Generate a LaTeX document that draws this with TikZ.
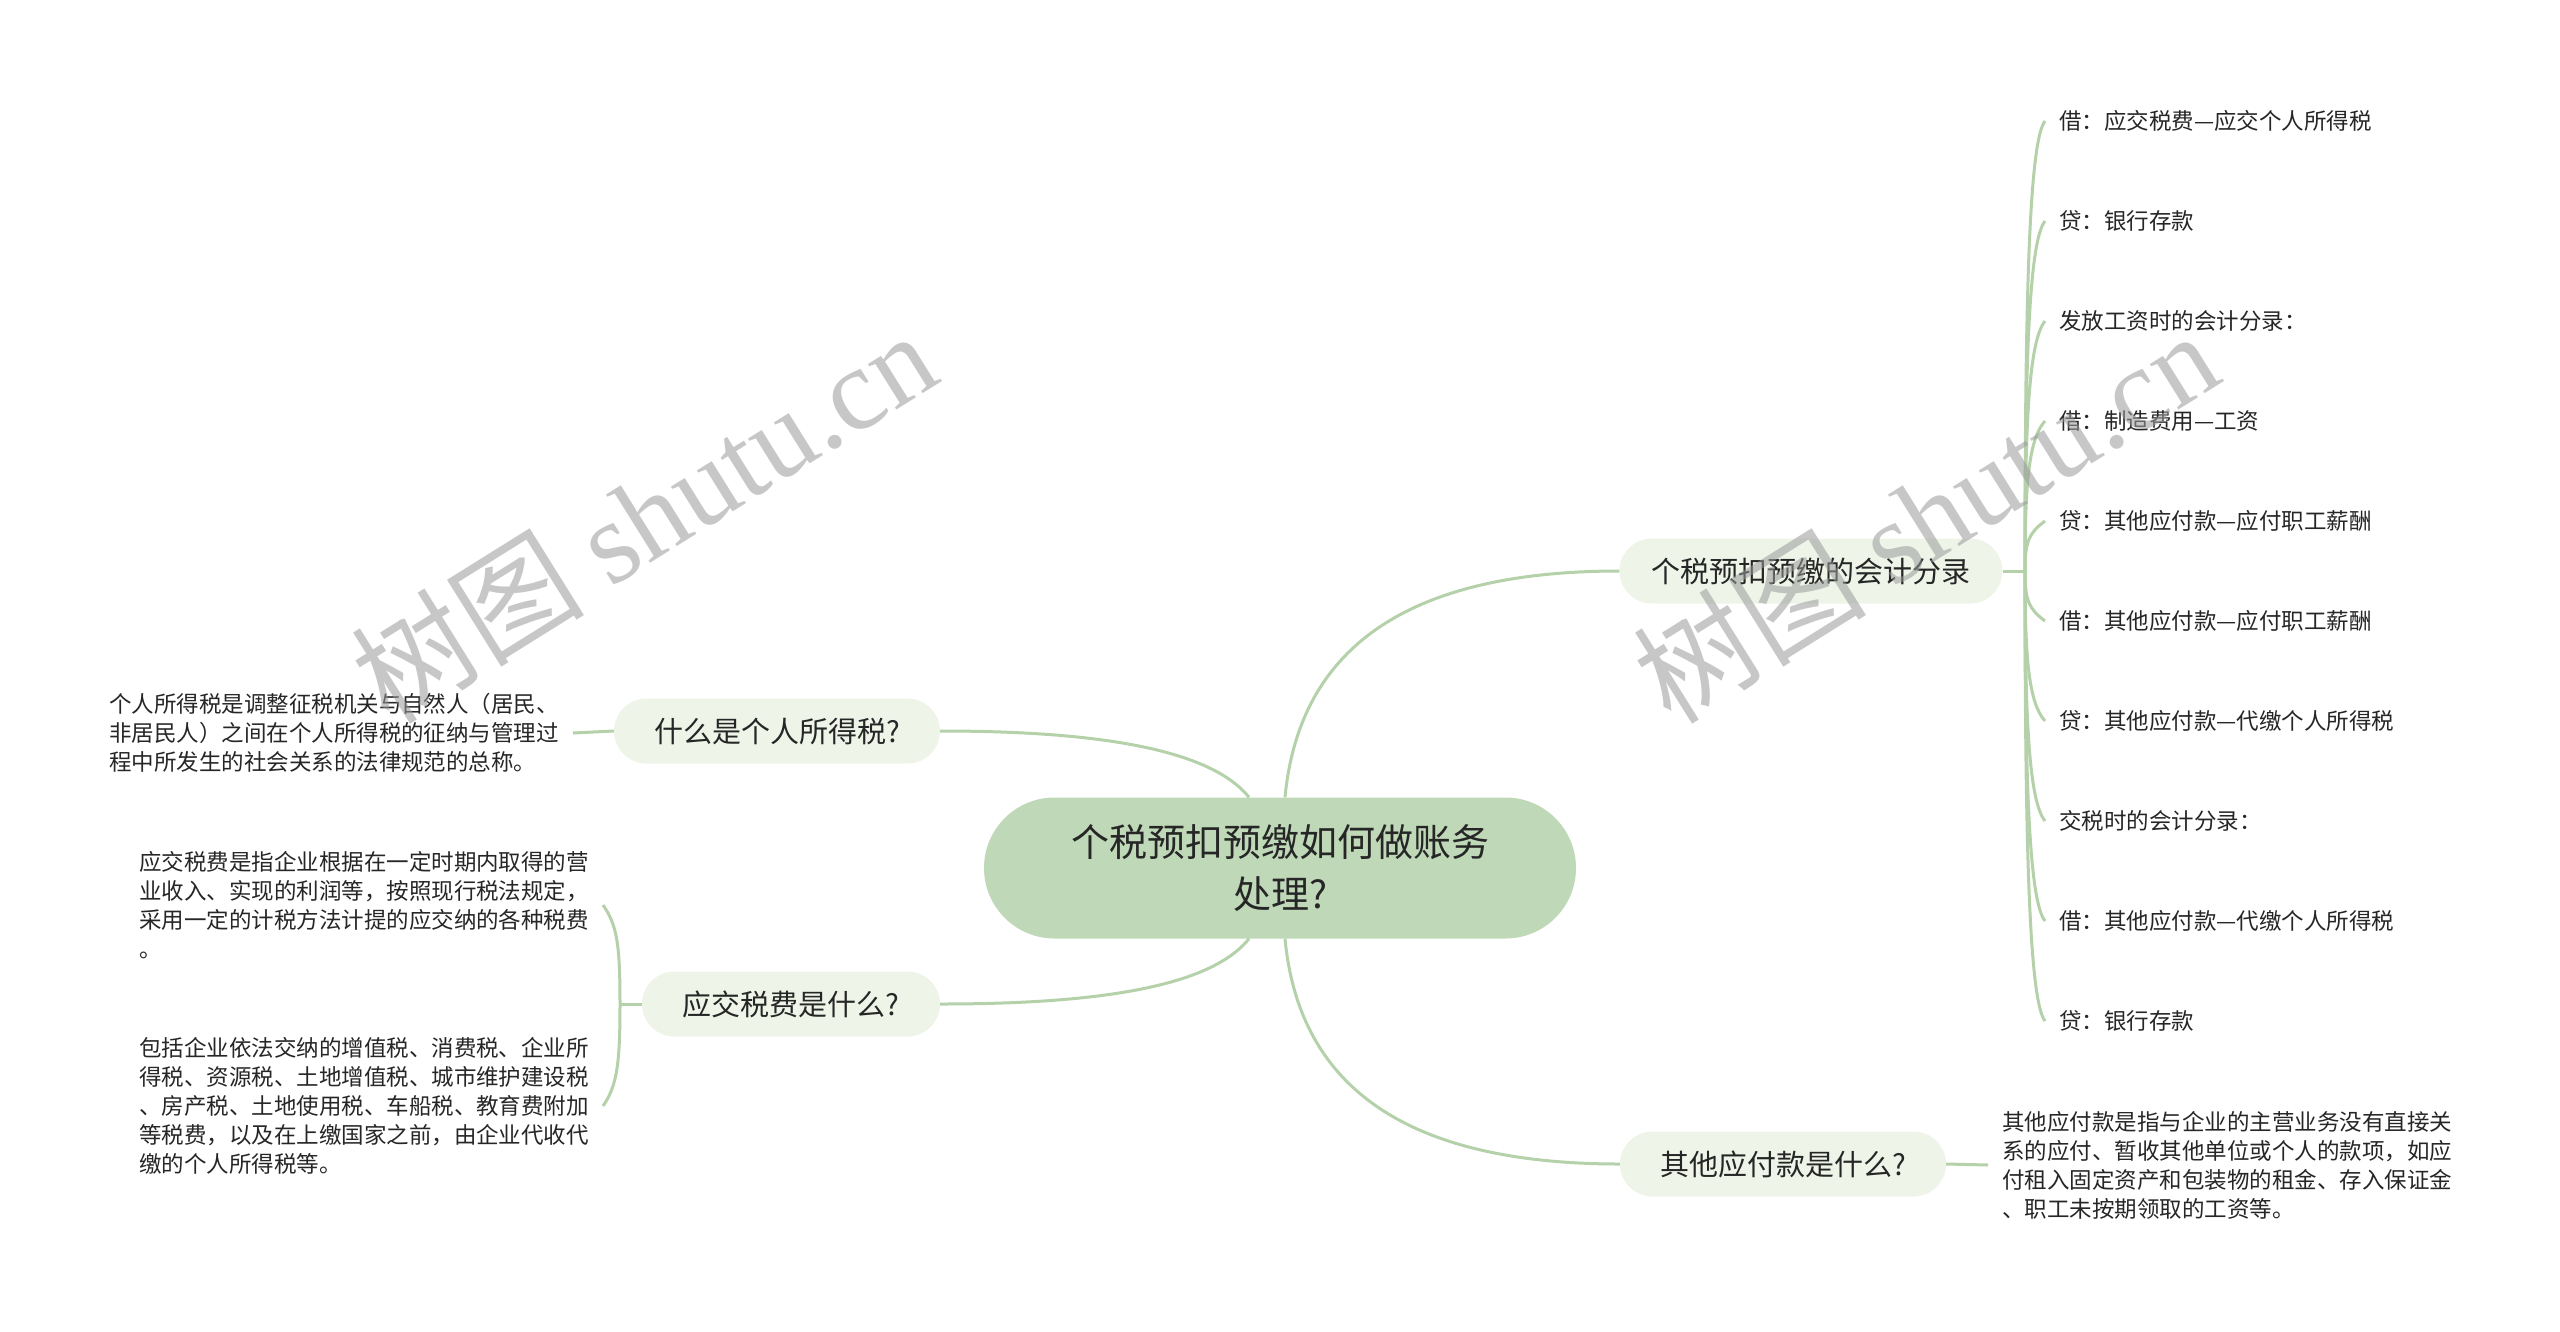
\documentclass[tikz,border=0pt]{standalone}
\usepackage{fontspec}
\setmainfont{Noto Sans CJK SC}
\newfontfamily\wmlatin{Liberation Serif}
\usetikzlibrary{shapes.misc}
\definecolor{centerfill}{HTML}{BFD9B8}
\definecolor{branchfill}{HTML}{EEF5E8}
\definecolor{linkcol}{HTML}{B5D1AA}
\definecolor{txt}{HTML}{262626}
\definecolor{wmcol}{HTML}{9A9A9A}
\begin{document}
\begin{tikzpicture}[x=1pt,y=-1pt,
  centernode/.style={rounded rectangle, fill=centerfill, minimum width=592pt, minimum height=141pt, inner sep=0pt, text=txt, font=\fontsize{38}{52}\selectfont, align=center},
  branchnode/.style={rounded rectangle, fill=branchfill, minimum height=65pt, inner sep=0pt, text=txt, font=\fontsize{29}{34}\selectfont},
  leafnode/.style={anchor=west, inner sep=0pt, outer xsep=14pt, text=txt, font=\fontsize{22.5}{29}\selectfont, align=left},
  link/.style={draw=linkcol, line width=3pt},
  watermark/.style={text=wmcol, text opacity=0.55, font=\fontsize{117}{120}\selectfont, rotate=32, inner sep=0pt}
]
\fill[white] (0,0) rectangle (2560,1331);
\useasboundingbox (0,0) rectangle (2560,1331);

% central and branch nodes
\node[centernode] (c) at (1280,868) {个税预扣预缴如何做账务\\处理?};
\node[branchnode, minimum width=383pt] (b1) at (1811,571) {个税预扣预缴的会计分录};
\node[branchnode, minimum width=326pt] (b2) at (777,731) {什么是个人所得税?};
\node[branchnode, minimum width=298pt] (b3) at (791,1004) {应交税费是什么?};
\node[branchnode, minimum width=326pt] (b4) at (1783,1164) {其他应付款是什么?};

% right leaves
\node[leafnode] (r1) at (2045,121) {借：应交税费—应交个人所得税};
\node[leafnode] (r2) at (2045,221) {贷：银行存款};
\node[leafnode] (r3) at (2045,321) {发放工资时的会计分录：};
\node[leafnode] (r4) at (2045,421) {借：制造费用—工资};
\node[leafnode] (r5) at (2045,521) {贷：其他应付款—应付职工薪酬};
\node[leafnode] (r6) at (2045,621) {借：其他应付款—应付职工薪酬};
\node[leafnode] (r7) at (2045,721) {贷：其他应付款—代缴个人所得税};
\node[leafnode] (r8) at (2045,821) {交税时的会计分录：};
\node[leafnode] (r9) at (2045,921) {借：其他应付款—代缴个人所得税};
\node[leafnode] (r10) at (2045,1021) {贷：银行存款};

% text blocks
\node[leafnode] (l1) at (95,733) {个人所得税是调整征税机关与自然人（居民、\\非居民人）之间在个人所得税的征纳与管理过\\程中所发生的社会关系的法律规范的总称。};
\node[leafnode] (la) at (125,905) {应交税费是指企业根据在一定时期内取得的营\\业收入、实现的利润等，按照现行税法规定，\\采用一定的计税方法计提的应交纳的各种税费\\。};
\node[leafnode] (lb) at (125,1106) {包括企业依法交纳的增值税、消费税、企业所\\得税、资源税、土地增值税、城市维护建设税\\、房产税、土地使用税、车船税、教育费附加\\等税费，以及在上缴国家之前，由企业代收代\\缴的个人所得税等。};
\node[leafnode] (lr) at (1988,1165) {其他应付款是指与企业的主营业务没有直接关\\系的应付、暂收其他单位或个人的款项，如应\\付租入固定资产和包装物的租金、存入保证金\\、职工未按期领取的工资等。};

\coordinate (hub1) at (2025,571);
\coordinate (hub3) at (620,1004);

% connectors from centre
\draw[link] ([xshift=5pt]c.north) .. controls +(15,-158) and +(-200,0) .. (b1.west);
\draw[link] ([xshift=5pt]c.south) .. controls +(15,158) and +(-200,0) .. (b4.west);
\draw[link] ([xshift=-31pt]c.north) .. controls +(-40,-50) and +(150,0) .. (b2.east);
\draw[link] ([xshift=-31pt]c.south) .. controls +(-40,50) and +(150,0) .. (b3.east);

% b1 fan
\draw[link] (b1.east) -- (hub1);
\foreach \n/\dy/\s in {r1/-270/20, r2/-210/20, r3/-150/20, r4/-90/18, r5/-30/12,
                       r6/30/-12, r7/90/-18, r8/150/-20, r9/210/-20, r10/270/-20} {
  \draw[link] (hub1) .. controls +(0,\dy) and +(-16,\s) .. (\n.west);
}

% b2, b4 links
\draw[link] (b2.west) -- (l1.east);
\draw[link] (b4.east) -- (lr.west);

% b3 bracket
\draw[link] (b3.west) -- (hub3);
\draw[link] (hub3) .. controls +(0,-60) and +(14,20) .. (la.east);
\draw[link] (hub3) .. controls +(0,60) and +(14,-20) .. (lb.east);

% watermarks
\node[watermark] (wm1) at (643,516) {树图 {\wmlatin shutu.cn}};
\node[watermark] (wm2) at (1925,516) {树图 {\wmlatin shutu.cn}};
\end{tikzpicture}
\end{document}
